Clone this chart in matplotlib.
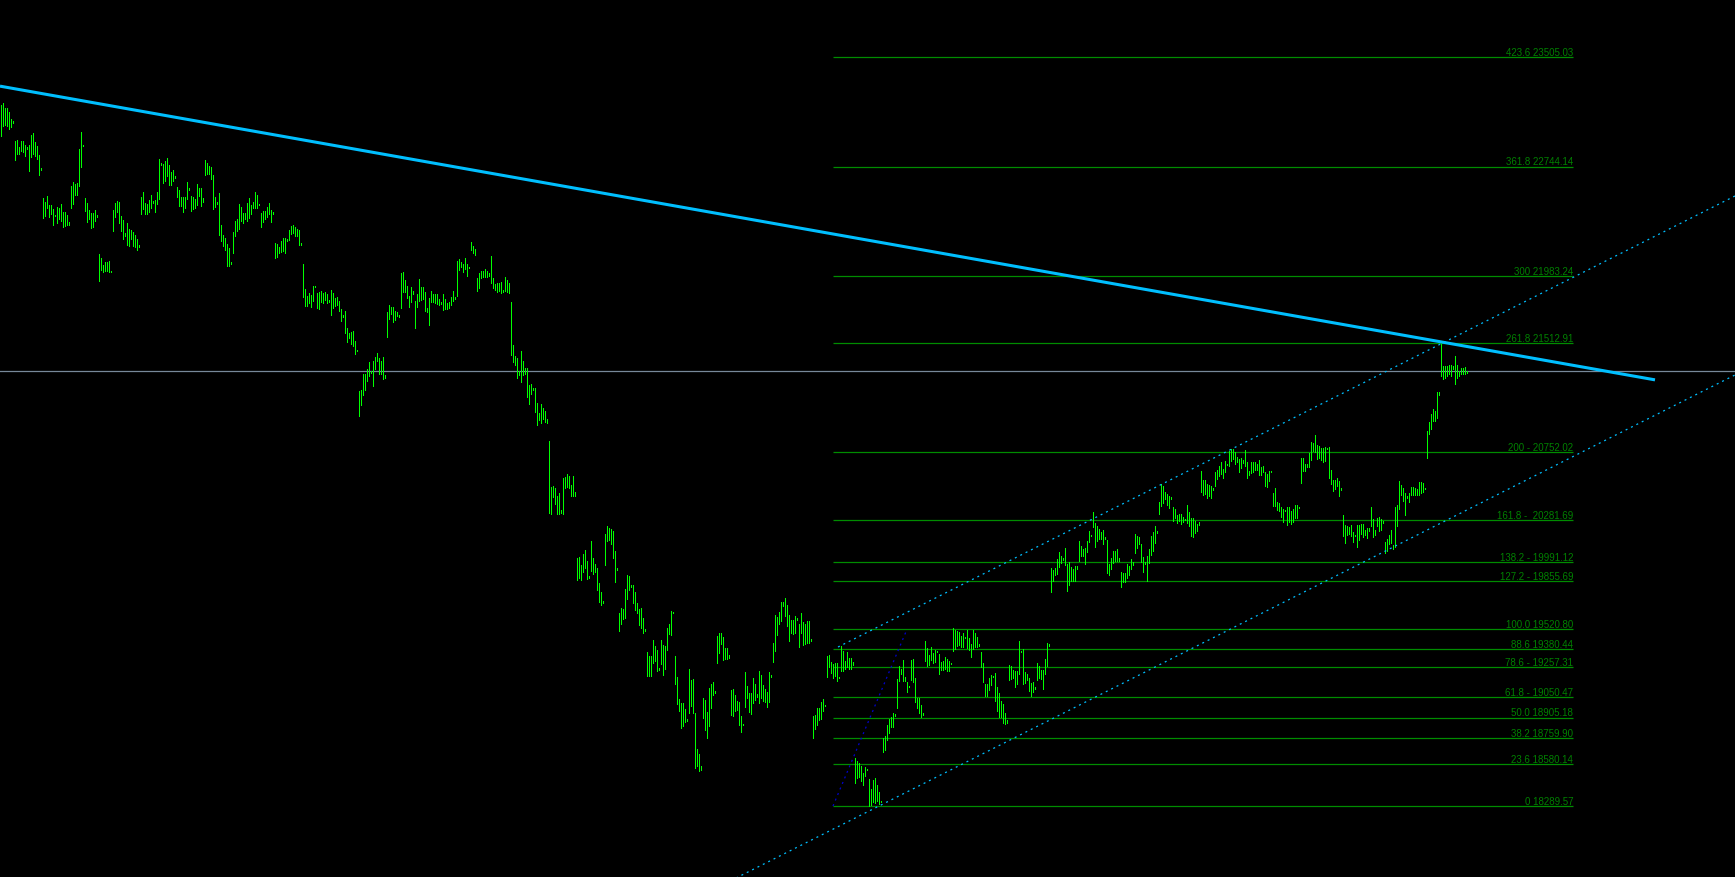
import numpy as np
import matplotlib
matplotlib.use('Agg')
import matplotlib.pyplot as plt

# bar highs / lows (one bar per slot, oldest first)
bar_high = [
    23173, 23187, 23152, 23152, 23124, 23075, 23061, 22921, 22928, 22879, 22921, 22921, 22893, 22879, 22893, 22963,
    22977, 22914, 22886, 22825, 22734, 22524, 22498, 22538, 22477, 22477, 22449, 22407, 22463, 22456, 22484, 22428,
    22428, 22407, 22358, 22608, 22636, 22622, 22629, 22867, 22984, 22893, 22524, 22491, 22442, 22421, 22421, 22442,
    22407, 22135, 22107, 22058, 22079, 22079, 22086, 22016, 22442, 22491, 22505, 22498, 22400, 22372, 22281, 22351,
    22309, 22302, 22288, 22267, 22239, 22197, 22531, 22566, 22491, 22484, 22512, 22545, 22505, 22512, 22566, 22797,
    22769, 22762, 22783, 22804, 22755, 22706, 22720, 22678, 22601, 22580, 22531, 22531, 22531, 22636, 22594, 22538,
    22531, 22517, 22622, 22594, 22594, 22524, 22790, 22769, 22748, 22741, 22685, 22531, 22498, 22559, 22337, 22267,
    22246, 22204, 22176, 22079, 22288, 22365, 22379, 22484, 22463, 22421, 22421, 22491, 22524, 22477, 22498, 22566,
    22545, 22484, 22421, 22435, 22435, 22463, 22491, 22442, 22428, 22211, 22204, 22183, 22225, 22246, 22246, 22239,
    22302, 22330, 22337, 22323, 22309, 22302, 22211, 22065, 21890, 21841, 21862, 21848, 21911, 21911, 21862, 21869,
    21876, 21862, 21869, 21855, 21815, 21883, 21862, 21827, 21834, 21808, 21752, 21710, 21738, 21619, 21584, 21591,
    21598, 21528, 21467, 21180, 21187, 21299, 21299, 21334, 21383, 21320, 21390, 21418, 21446, 21411, 21390, 21418,
    21292, 21731, 21780, 21766, 21766, 21738, 21731, 21710, 22002, 22009, 21953, 21911, 21841, 21904, 21876, 21808,
    21855, 21960, 21904, 21904, 21869, 21759, 21827, 21876, 21855, 21855, 21855, 21820, 21801, 21855, 21820, 21794,
    21801, 21834, 21876, 21834, 22086, 22100, 22079, 22065, 22107, 22065, 22044, 22218, 22190, 22170, 21967, 22002,
    22016, 22016, 22030, 22016, 22002, 22121, 21967, 21925, 21932, 21932, 21939, 21883, 21974, 21953, 21932, 21801,
    21500, 21425, 21411, 21320, 21460, 21390, 21341, 21341, 21222, 21229, 21201, 21201, 21097, 21027, 21090, 21062,
    21041, 20985, 20831, 20511, 20518, 20504, 20448, 20469, 20352, 20574, 20581, 20602, 20588, 20525, 20588, 20476,
    20017, 20024, 19968, 20045, 20073, 19996, 19891, 20135, 20017, 19975, 19947, 19842, 19779, 19718, 20184, 20240,
    20226, 20219, 20205, 20066, 19947, 19634, 19669, 19662, 19800, 19898, 19891, 19828, 19828, 19779, 19704, 19662,
    19669, 19599, 19522, 19363, 19335, 19335, 19445, 19403, 19377, 19251, 19445, 19410, 19403, 19529, 19557, 19648,
    19641, 19335, 19188, 19036, 19008, 19008, 18966, 18896, 19244, 19167, 19174, 18938, 18687, 18652, 18568, 19041,
    19029, 18945, 19111, 19139, 19153, 19090, 19473, 19494, 19494, 19466, 19389, 19389, 19342, 19097, 19104, 19062,
    19022, 19015, 18917, 18861, 19223, 19125, 19076, 19076, 19181, 19139, 19069, 19230, 19202, 19132, 19104, 19083,
    19223, 19202, 19424, 19620, 19606, 19641, 19711, 19711, 19737, 19690, 19620, 19585, 19585, 19613, 19599, 19557,
    19634, 19571, 19557, 19578, 19578, 19452, 18917, 18924, 18973, 18973, 19015, 19036, 18994, 19335, 19342, 19293,
    19279, 19286, 19286, 19188, 19403, 19370, 19300, 19363, 19321, 19321, 19293, 18624, 18603, 18589, 18568, 18519,
    18561, 18547, 18477, 18407, 18470, 18484, 18435, 18386, 18324, 18763, 18777, 18854, 18896, 18910, 18938, 18931,
    19174, 19265, 19244, 19307, 19188, 19153, 19125, 19307, 19314, 19181, 19041, 19041, 18994, 18938, 19438, 19389,
    19342, 19396, 19356, 19377, 19370, 19349, 19293, 19300, 19328, 19314, 19300, 19286, 19529, 19515, 19508, 19501,
    19473, 19494, 19466, 19515, 19459, 19417, 19515, 19494, 19466, 19417, 19363, 19286, 19139, 19139, 19181, 19202,
    19195, 19216, 19118, 19076, 19022, 19001, 18938, 18889, 19272, 19265, 19237, 19230, 19230, 19438, 19370, 19384,
    19223, 19209, 19181, 19146, 19153, 19118, 19286, 19265, 19237, 19237, 19314, 19424, 19417, 19947, 19933, 19947,
    20010, 20059, 20031, 20017, 20086, 19975, 19989, 19954, 19940, 19961, 19961, 20135, 20100, 20080, 20086, 20135,
    20205, 20177, 20338, 20261, 20240, 20219, 20198, 20212, 20163, 20142, 19975, 20017, 20066, 20066, 20080, 20017,
    19919, 19912, 19912, 19975, 19961, 20010, 19989, 20184, 20170, 20163, 20114, 20024, 19989, 20031, 20080, 20170,
    20198, 20240, 20205, 20408, 20532, 20518, 20476, 20462, 20448, 20441, 20373, 20359, 20317, 20324, 20324, 20303,
    20289, 20387, 20338, 20296, 20296, 20275, 20254, 20268, 20623, 20560, 20560, 20532, 20525, 20518, 20504, 20616,
    20630, 20658, 20686, 20637, 20693, 20672, 20763, 20777, 20777, 20756, 20721, 20707, 20714, 20700, 20770, 20686,
    20623, 20686, 20686, 20686, 20672, 20700, 20651, 20658, 20616, 20602, 20623, 20623, 20469, 20504, 20408, 20401,
    20373, 20359, 20352, 20373, 20373, 20345, 20359, 20387, 20387, 20373, 20714, 20714, 20672, 20672, 20749, 20824,
    20817, 20873, 20803, 20796, 20782, 20782, 20789, 20782, 20789, 20630, 20560, 20560, 20574, 20553, 20504, 20317,
    20247, 20240, 20233, 20247, 20198, 20177, 20247, 20247, 20254, 20254, 20212, 20226, 20226, 20373, 20289, 20212,
    20296, 20303, 20289, 20275, 20128, 20149, 20177, 20212, 20107, 20373, 20387, 20553, 20525, 20504, 20469, 20448,
    20469, 20511, 20511, 20504, 20497, 20546, 20546, 20539, 20504, 20901, 20964, 21020, 21055, 21041, 21173, 21173,
    21507, 21355, 21355, 21355, 21362, 21362, 21355, 21425, 21362, 21320, 21341, 21341, 21348, 21320,
]
bar_low = [
    22956, 23026, 23033, 23026, 23005, 23019, 23047, 22790, 22832, 22832, 22853, 22846, 22818, 22867, 22713, 22811,
    22832, 22818, 22797, 22685, 22720, 22386, 22400, 22456, 22393, 22414, 22337, 22400, 22351, 22379, 22365, 22323,
    22330, 22337, 22337, 22456, 22484, 22545, 22545, 22608, 22741, 22886, 22435, 22358, 22379, 22316, 22323, 22365,
    22393, 21946, 22023, 22009, 22016, 22016, 22009, 22009, 22295, 22393, 22428, 22351, 22295, 22239, 22260, 22197,
    22190, 22239, 22190, 22183, 22163, 22183, 22414, 22449, 22414, 22414, 22428, 22456, 22491, 22428, 22484, 22517,
    22755, 22629, 22643, 22678, 22615, 22615, 22643, 22664, 22531, 22470, 22470, 22428, 22456, 22517, 22580, 22435,
    22449, 22456, 22477, 22538, 22470, 22498, 22685, 22692, 22692, 22657, 22449, 22463, 22484, 22267, 22225, 22190,
    22163, 22051, 22051, 22065, 22142, 22260, 22295, 22309, 22365, 22351, 22379, 22365, 22386, 22414, 22456, 22456,
    22456, 22477, 22323, 22358, 22379, 22393, 22414, 22358, 22414, 22107, 22114, 22142, 22149, 22156, 22142, 22225,
    22232, 22274, 22281, 22260, 22260, 22197, 22197, 21834, 21773, 21773, 21794, 21766, 21808, 21904, 21759, 21752,
    21801, 21794, 21815, 21794, 21801, 21710, 21759, 21773, 21780, 21738, 21668, 21696, 21584, 21521, 21549, 21507,
    21493, 21439, 21460, 21006, 21083, 21152, 21187, 21250, 21285, 21306, 21215, 21334, 21390, 21299, 21299, 21264,
    21271, 21556, 21682, 21717, 21661, 21675, 21703, 21696, 21759, 21869, 21869, 21827, 21766, 21801, 21855, 21619,
    21766, 21808, 21815, 21820, 21738, 21731, 21640, 21801, 21801, 21794, 21787, 21780, 21787, 21745, 21752, 21752,
    21759, 21780, 21808, 21820, 21841, 22023, 22044, 22009, 22030, 21981, 22037, 22163, 22142, 22128, 21876, 21897,
    21967, 21974, 21974, 21974, 21981, 21932, 21897, 21883, 21869, 21876, 21862, 21869, 21876, 21869, 21862, 21432,
    21383, 21362, 21271, 21292, 21243, 21292, 21299, 21138, 21090, 21159, 21187, 21034, 20943, 20978, 20957, 20985,
    20964, 20957, 20331, 20324, 20441, 20394, 20324, 20324, 20331, 20324, 20504, 20511, 20504, 20448, 20448, 20448,
    19863, 19877, 19863, 19919, 19947, 19870, 19877, 19926, 19905, 19919, 19793, 19711, 19690, 19704, 19968, 20135,
    20142, 20114, 20017, 19849, 19933, 19508, 19557, 19592, 19599, 19730, 19793, 19814, 19704, 19655, 19634, 19550,
    19529, 19494, 19508, 19195, 19195, 19195, 19286, 19300, 19230, 19237, 19279, 19202, 19244, 19377, 19487, 19480,
    19634, 19139, 19001, 18952, 18833, 18847, 18875, 18882, 18938, 18987, 18938, 18554, 18568, 18533, 18540, 18903,
    18819, 18763, 18847, 18973, 19062, 19076, 19286, 19356, 19417, 19307, 19314, 19314, 19321, 18924, 18917, 18952,
    18959, 18854, 18805, 18854, 18980, 19041, 18945, 18931, 19008, 19029, 19048, 19008, 19041, 19022, 19015, 18980,
    19015, 19188, 19293, 19370, 19480, 19557, 19578, 19683, 19613, 19543, 19438, 19494, 19487, 19494, 19585, 19396,
    19494, 19410, 19417, 19424, 19424, 19438, 18763, 18826, 18854, 18889, 18896, 18952, 18987, 19188, 19258, 19216,
    19181, 19195, 19160, 19181, 19230, 19230, 19244, 19258, 19244, 19244, 19272, 18449, 18484, 18491, 18463, 18435,
    18498, 18540, 18289, 18300, 18317, 18310, 18324, 18303, 18317, 18666, 18680, 18749, 18798, 18840, 18840, 18917,
    18973, 19160, 19209, 19160, 19160, 19083, 19118, 19167, 19153, 19015, 18973, 18938, 18910, 18924, 19300, 19265,
    19272, 19307, 19286, 19293, 19363, 19209, 19237, 19237, 19244, 19230, 19230, 19279, 19370, 19382, 19403, 19410,
    19396, 19396, 19459, 19389, 19375, 19328, 19382, 19396, 19396, 19403, 19258, 19153, 19055, 19055, 19097, 19132,
    19188, 19022, 18952, 18910, 18910, 18868, 18861, 18868, 19167, 19174, 19181, 19118, 19139, 19209, 19363, 19139,
    19146, 19167, 19090, 19055, 19083, 19104, 19167, 19181, 19174, 19104, 19209, 19265, 19403, 19779, 19856, 19898,
    19905, 19954, 19982, 20003, 19968, 19786, 19828, 19856, 19856, 19856, 19940, 19996, 20031, 20031, 19975, 20059,
    20128, 20170, 20233, 20093, 20135, 20149, 20149, 20114, 20149, 19912, 19898, 19940, 19982, 19996, 19996, 19996,
    19814, 19849, 19849, 19877, 19898, 19940, 19968, 20052, 20086, 20114, 19989, 19919, 19975, 19856, 19982, 20038,
    20066, 20121, 20191, 20324, 20380, 20401, 20429, 20387, 20366, 20429, 20275, 20296, 20261, 20275, 20254, 20268,
    20282, 20261, 20240, 20170, 20163, 20191, 20205, 20247, 20476, 20455, 20462, 20434, 20448, 20434, 20490, 20518,
    20567, 20588, 20602, 20574, 20616, 20665, 20658, 20693, 20707, 20672, 20686, 20616, 20644, 20679, 20658, 20574,
    20595, 20609, 20616, 20630, 20630, 20595, 20595, 20616, 20518, 20511, 20553, 20616, 20380, 20380, 20352, 20345,
    20303, 20268, 20345, 20247, 20268, 20254, 20268, 20296, 20296, 20366, 20539, 20623, 20623, 20651, 20651, 20700,
    20763, 20756, 20707, 20714, 20700, 20686, 20693, 20777, 20574, 20532, 20483, 20497, 20518, 20448, 20490, 20170,
    20121, 20177, 20184, 20170, 20128, 20170, 20093, 20142, 20184, 20163, 20177, 20156, 20205, 20240, 20163, 20177,
    20240, 20205, 20212, 20261, 20052, 20066, 20114, 20121, 20080, 20093, 20240, 20359, 20455, 20415, 20317, 20434,
    20408, 20455, 20455, 20455, 20455, 20455, 20469, 20476, 20497, 20714, 20880, 20915, 20971, 20971, 20992, 21152,
    21285, 21264, 21271, 21285, 21299, 21285, 21334, 21229, 21271, 21285, 21299, 21299, 21299, 21306,
]

# fibonacci levels
fib_pct = ['423.6', '361.8', '300', '261.8', '200 -', '161.8 - ', '138.2 -', '127.2 -',
           '100.0', '88.6', '78.6 -', '61.8 -', '50.0', '38.2', '23.6', '0']
fib_price = [23505.03, 22744.14, 21983.24, 21512.91, 20752.02, 20281.69, 19991.12, 19855.69,
             19520.80, 19380.44, 19257.31, 19050.47, 18905.18, 18759.90, 18580.14, 18289.57]
fib_x = (416.25, 786.25)
fib_anchor = ((416.25, 18289.57), (453.25, 19520.80))

# drawn objects (bar index, price)
trend_line = ((-0.25, 23304), (827.25, 21258))
channel_upper = ((418.75, 19397), (867.25, 22539))
channel_lower = ((330.0, 17523), (867.25, 21292))
bid_price = 21320

high = np.array(bar_high)
low = np.array(bar_low)
n = min(len(high), len(low))
x = np.arange(n)

fig = plt.figure(figsize=(17.35, 8.78), dpi=100, facecolor='black')
ax = fig.add_axes([0, 0, 1, 1])
ax.set_facecolor('black')
ax.set_xlim(-0.25, 867.25)
ax.set_ylim(17795, 23911)
ax.axis('off')

# bid line
ax.axhline(bid_price, color='#778899', lw=0.9, zorder=1)

# fib levels
for pct, price in zip(fib_pct, fib_price):
    ax.plot(fib_x, [price, price], color='#008c00', lw=0.9, zorder=1, solid_capstyle='butt')
    ax.annotate(f'{pct} {price:.2f}', (fib_x[1], price), xytext=(0, 1.6), textcoords='offset points',
                ha='right', va='baseline', color='#008000', fontsize=7, family='Liberation Sans')

ax.plot(*zip(*fib_anchor), color='#0000cd', lw=0.9, linestyle=(0, (1.6, 3.2)), zorder=3)

# price bars, 1 px wide
ax.vlines(x, low[:n], high[:n], color='#00ff00', lw=0.72, antialiased=False, zorder=2)

# channel and trend line
for seg in (channel_upper, channel_lower):
    ax.plot(*zip(*seg), color='#00bfff', lw=0.9, linestyle=(0, (1.6, 3.2)), zorder=3)
ax.plot(*zip(*trend_line), color='#00bfff', lw=2.2, zorder=4, solid_capstyle='butt')

fig.savefig('out.png', dpi=100, facecolor='black')
